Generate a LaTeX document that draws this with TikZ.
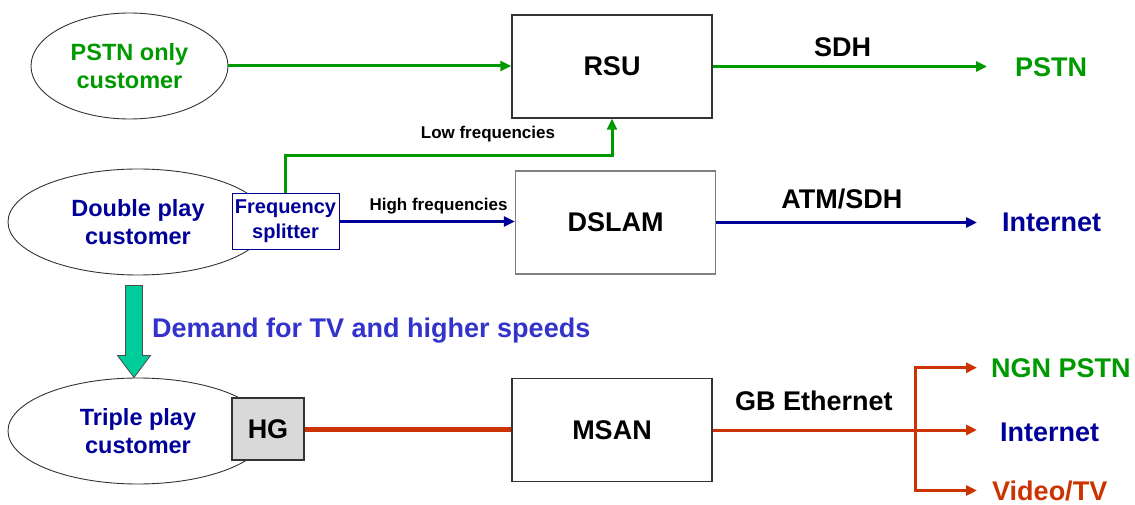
\documentclass[tikz,border=0pt]{standalone}
\usepackage{fontspec}
\setmainfont{Liberation Sans}
\usetikzlibrary{arrows.meta, shapes.geometric, calc}

\definecolor{pgreen}{RGB}{0,153,0}
\definecolor{pnavy}{RGB}{0,0,153}
\definecolor{pred}{RGB}{204,51,0}
\definecolor{pblue}{RGB}{51,51,204}
\definecolor{pteal}{RGB}{0,204,153}

\newcommand{\unitfont}{\fontsize{27}{30}\selectfont\bfseries}
\newcommand{\custfont}{\fontsize{23.5}{28.5}\selectfont\bfseries}
\newcommand{\splitfont}{\fontsize{20}{25}\selectfont\bfseries}
\newcommand{\freqfont}{\fontsize{17}{20}\selectfont\bfseries}

\begin{document}
\begin{tikzpicture}[x=1pt,y=-1pt,>={Triangle[length=11pt,width=10pt]},
    cust/.style={draw=black!80,line width=0.9pt,ellipse,inner sep=0pt,
                 align=center,font=\custfont},
    unit/.style={draw=black!80,line width=1.4pt,fill=white,
                 minimum width=200pt,minimum height=103pt,font=\unitfont},
    outtxt/.style={inner sep=0pt,anchor=base west,font=\unitfont},
    lbl/.style={inner sep=0pt,font=\unitfont},
    freq/.style={inner sep=0pt,font=\freqfont},
    gline/.style={draw=pgreen,line width=3pt},
    bline/.style={draw=pnavy,line width=3pt},
    rline/.style={draw=pred,line width=3pt}]
  \useasboundingbox (0,0) rectangle (1135,505);

  % customers
  \node[cust,text=pgreen,minimum width=197pt,minimum height=106pt]
    (pstn) at (129.5,66) {PSTN only\\customer};
  \node[cust,text=pnavy,minimum width=260pt,minimum height=106pt]
    (dbl) at (138,222) {Double play\\customer};
  \node[cust,text=pnavy,minimum width=260pt,minimum height=106pt]
    (tpl) at (138,431) {Triple play\\customer};
  \node[draw=pnavy,line width=1pt,fill=white,text=pnavy,font=\splitfont,
        align=center,inner sep=0pt,minimum width=107pt,minimum height=55pt]
    (split) at (285.5,221.5) {Frequency\\splitter};
  \node[draw=black!80,line width=1.4pt,fill=black!15,font=\unitfont,
        minimum width=72pt,minimum height=62pt] (hg) at (268,429) {HG};

  % exchange side
  \node[unit] (rsu) at (612,66.5) {RSU};
  \node[unit,draw=black!50] (dslam) at (615.5,222.5) {DSLAM};
  \node[unit] (msan) at (612,430) {MSAN};

  \node[outtxt,text=pgreen] (pstnout) at (1015,76.7) {PSTN};
  \node[outtxt,text=pnavy] (inet) at (1002,231.7) {Internet};
  \node[outtxt,text=pgreen] (ngn) at (991,377) {NGN PSTN};
  \node[outtxt,text=pnavy] (inet2) at (1000,441) {Internet};
  \node[outtxt,text=pred] (video) at (992,500) {Video/TV};

  % PSTN and double play
  \draw[gline,->] (pstn.east) -- (pstn.east -| rsu.west);
  \draw[gline,->,shorten >=28pt] (rsu.east)
    -- node[lbl,above=8pt,pos=0.43]{SDH} (rsu.east -| pstnout.west);
  \draw[gline,->] (split.north) -- ++(0,-38)
    -| node[freq,above=12pt,pos=0.31]{Low frequencies} (rsu.south);
  \draw[bline,->] (split.east)
    -- node[freq,above=6pt,pos=0.565]{High frequencies} (split.east -| dslam.west);
  \draw[bline,->,shorten >=25pt] (dslam.east)
    -- node[lbl,above=12pt,pos=0.44]{ATM/SDH} (dslam.east -| inet.west);

  % demand arrow
  \path (dbl.south) ++(-4,10) coordinate (dtop)
        (tpl.north) ++(-4,0) coordinate (dtip);
  \draw[fill=pteal,draw=black!70,line width=0.8pt]
    ($(dtop)+(-8.5,0)$) -- ($(dtip)+(-8.5,-22)$) -- ($(dtip)+(-16.5,-22)$)
    -- (dtip) -- ($(dtip)+(16.5,-22)$) -- ($(dtip)+(8.5,-22)$)
    -- ($(dtop)+(8.5,0)$) -- cycle;
  \node[inner sep=0pt,anchor=base west,font=\unitfont,text=pblue]
    (demand) at (152,337.7) {Demand for TV and higher speeds};

  % triple play
  \draw[rline,line width=5pt] (hg.east) -- (hg.east -| msan.west);
  \coordinate (fork) at (915,430);
  \draw[rline] (msan.east) -- node[lbl,above=18pt]{GB Ethernet} (fork);
  \draw[rline,->,shorten >=14pt] (fork) |- (ngn.west);
  \draw[rline,->,shorten >=23pt] (fork) -- (fork -| inet2.west);
  \draw[rline,->,shorten >=15pt] (fork) |- (video.west);
\end{tikzpicture}
\end{document}
